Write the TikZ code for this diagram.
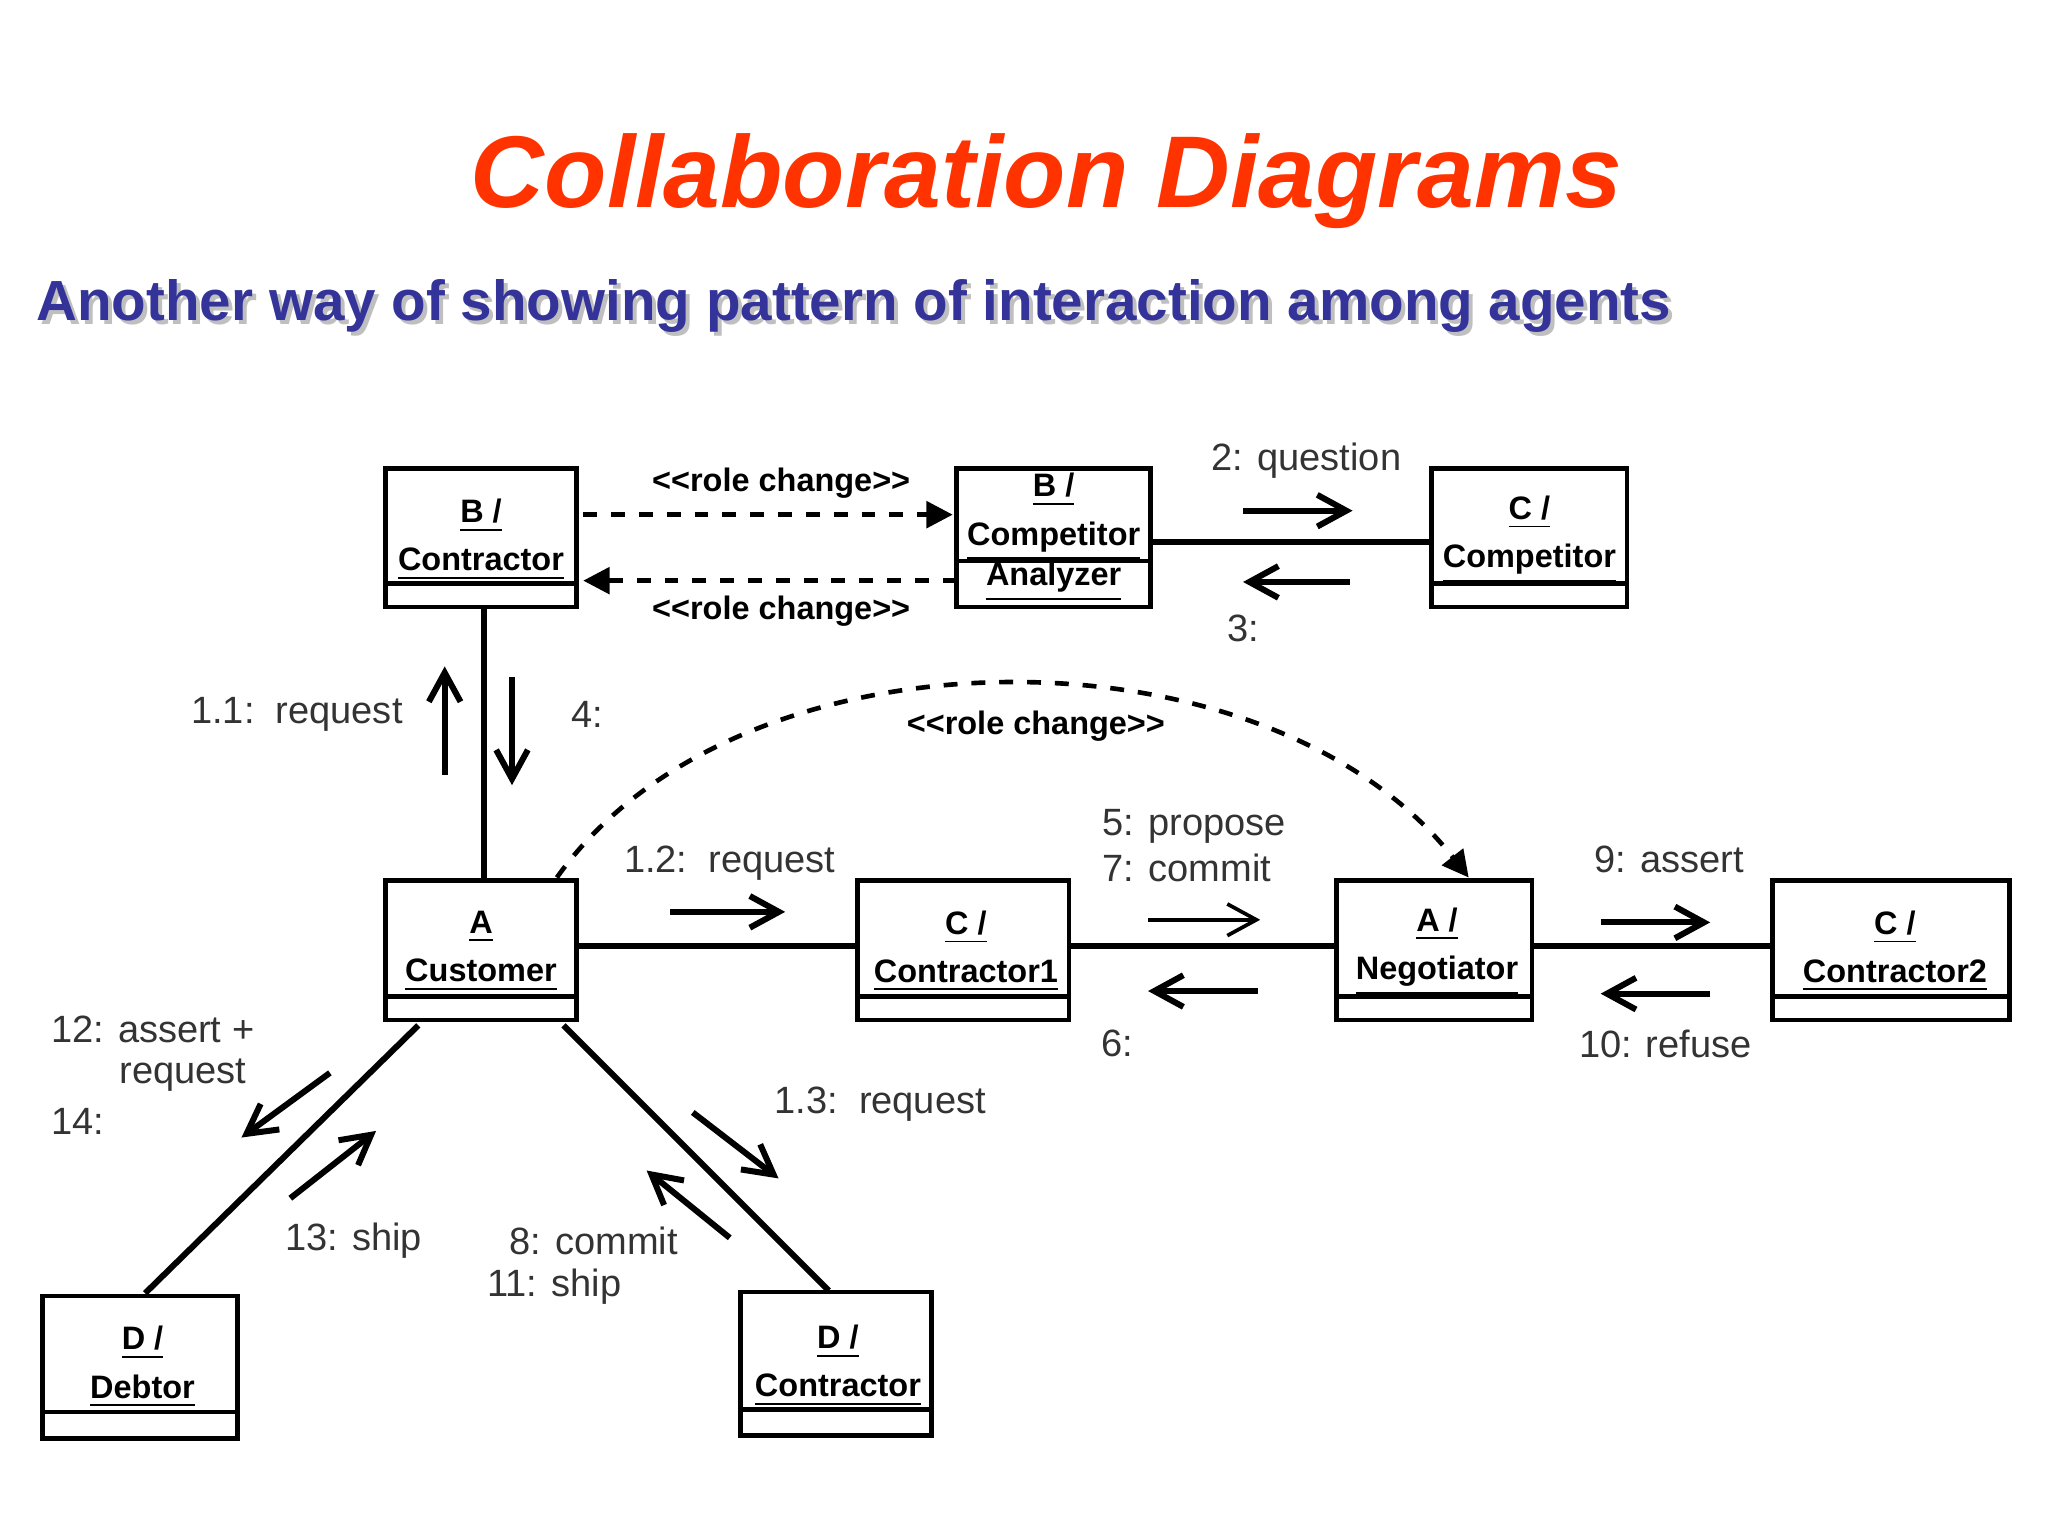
\documentclass[tikz,border=0pt]{standalone}
\usepackage{fontspec}
\setmainfont{Liberation Sans}
\usetikzlibrary{arrows.meta}
\newcommand{\rolechg}{<\kern0pt<role change>\kern0pt>}
\begin{document}
\begin{tikzpicture}[x=0.1mm,y=-0.1mm,
  box/.style={draw,line width=1pt,inner sep=0pt},
  bt/.style={inner sep=0pt,font=\fontsize{7}{8.4}\selectfont\bfseries,align=center},
  link/.style={line width=1.3pt},
  msg/.style={line width=1.3pt,-{Straight Barb[length=2.2mm,width=2.4mm]}},
  dmsg/.style={line width=1pt,dashed,-{Triangle[length=2mm,width=2mm]}},
  lbl/.style={font=\fontsize{8.2}{10}\selectfont,text=black!80},
  rc/.style={font=\fontsize{7}{8}\selectfont\bfseries}]
\useasboundingbox (0,0) rectangle (1552,1164);
\node[font=\fontsize{22}{24}\selectfont\bfseries\itshape,text={rgb,255:red,255;green,51;blue,0}] (title) at (793,137) {Collaboration Diagrams};
\node[anchor=west,inner sep=0pt,font=\fontsize{12.2}{14}\selectfont\bfseries,text=black!25] at (30,235) {Another way of showing pattern of interaction among agents};
\node[anchor=west,inner sep=0pt,font=\fontsize{12.2}{14}\selectfont\bfseries,text={rgb,255:red,51;green,51;blue,153}] (sub) at (27,232) {Another way of showing pattern of interaction among agents};

% boxes
\node[box,minimum width=145*0.1mm,minimum height=105*0.1mm] (bc) at (364.5,407.5) {};
\node[bt] at (364.5,409) {\underline{B /}\\[2pt]\underline{Contractor}};
\draw[line width=1pt] (292,442) -- (437,442);
\node[box,minimum width=147*0.1mm,minimum height=105*0.1mm] (bca) at (798.5,407.5) {};
\node[bt] at (798.5,392) {\underline{B /}\\[2pt]\underline{Competitor}};
\node[bt] at (798.5,441) {\underline{Analyzer}};
\draw[line width=1pt] (725,425) -- (872,425);
\node[box,minimum width=148*0.1mm,minimum height=105*0.1mm] (cc) at (1159,407.5) {};
\node[bt] at (1159,409) {\underline{C /}\\[2pt]\underline{Competitor}};
\draw[line width=1pt] (1085,442) -- (1233,442);
\node[box,minimum width=145*0.1mm,minimum height=106*0.1mm] (ac) at (364.5,720) {};
\node[bt] at (364.5,721) {\underline{A}\\[2pt]\underline{Customer}};
\draw[line width=1pt] (292,755) -- (437,755);
\node[box,minimum width=160*0.1mm,minimum height=106*0.1mm] (c1) at (730,720) {};
\node[bt] at (732,721) {\underline{C /}\\[2pt]\underline{Contractor1}};
\draw[line width=1pt] (650,755) -- (810,755);
\node[box,minimum width=148*0.1mm,minimum height=106*0.1mm] (an) at (1087,720) {};
\node[bt] at (1089,721) {\underline{A /}\\[2pt]\underline{Negotiator}};
\draw[line width=1pt] (1013,755) -- (1161,755);
\node[box,minimum width=180*0.1mm,minimum height=106*0.1mm] (c2) at (1433,720) {};
\node[bt] at (1436,721) {\underline{C /}\\[2pt]\underline{Contractor2}};
\draw[line width=1pt] (1343,755) -- (1523,755);
\node[box,minimum width=148*0.1mm,minimum height=108*0.1mm] (dd) at (106,1036) {};
\node[bt] at (108,1036) {\underline{D /}\\[2pt]\underline{Debtor}};
\draw[line width=1pt] (32,1070) -- (180,1070);
\node[box,minimum width=145*0.1mm,minimum height=109*0.1mm] (dc) at (633.5,1033.5) {};
\node[bt] at (635,1035) {\underline{D /}\\[2pt]\underline{Contractor}};
\draw[line width=1pt] (561,1068) -- (706,1068);

% links
\draw[link] (367,460) -- (367,667);
\draw[link] (bca.east |- 0,411) -- (cc.west |- 0,411);
\draw[link] (ac.east |- 0,717) -- (c1.west |- 0,717);
\draw[link] (c1.east |- 0,717) -- (an.west |- 0,717);
\draw[link] (an.east |- 0,717) -- (c2.west |- 0,717);
\draw[link] (317,777) -- (110,980);
\draw[link] (427,777) -- (628,978);

% role changes
\draw[dmsg] (442,390) -- (722,390);
\node[rc] at (592,366) {\rolechg};
\draw[dmsg] (725,440) -- (442,440);
\node[rc] at (592,463) {\rolechg};
\draw[dmsg] (422,665) .. controls (560,470) and (960,470) .. (1113,665);
\node[rc] at (785,550) {\rolechg};

% messages
\draw[msg] (337,587) -- (337,505);
\draw[msg] (388,513) -- (388,595);
\node[lbl] at (225,541) {1.1:\ \ request};
\node[lbl] at (445,541) {4:};
\draw[msg] (942,387) -- (1025,387);
\draw[msg] (1023,441) -- (942,441);
\node[lbl] at (990,349) {2: question};
\node[lbl] at (942,476) {3:};
\draw[msg] (508,691) -- (595,691);
\node[lbl] at (553,654) {1.2:\ \ request};
\draw[line width=0.8pt,-{Straight Barb[length=2.2mm,width=2.4mm]}] (870,697) -- (955,697);
\node[lbl,anchor=west,align=left,inner sep=0pt] at (835,641) {5: propose\\7: commit};
\draw[msg] (953,751) -- (870,751);
\node[lbl] at (847,791) {6:};
\draw[msg] (1213,699) -- (1296,699);
\node[lbl] at (1265,651) {9: assert};
\draw[msg] (1296,753) -- (1213,753);
\node[lbl] at (1262,791) {10: refuse};
\draw[msg] (250,813) -- (183,862);
\draw[msg] (220,908) -- (285,857);
\node[lbl,anchor=west,inner sep=0pt] at (38,780) {12: assert +};
\node[lbl,anchor=west,inner sep=0pt] at (90,815) {request};
\node[lbl,anchor=west,inner sep=0pt] at (38,850) {14:};
\node[lbl] at (268,940) {13: ship};
\draw[msg] (525,843) -- (590,893);
\draw[msg] (553,938) -- (490,887);
\node[lbl] at (667,837) {1.3:\ \ request};
\node[lbl] at (450,940) {8: commit};
\node[lbl] at (420,975) {11: ship};
\end{tikzpicture}
\end{document}
